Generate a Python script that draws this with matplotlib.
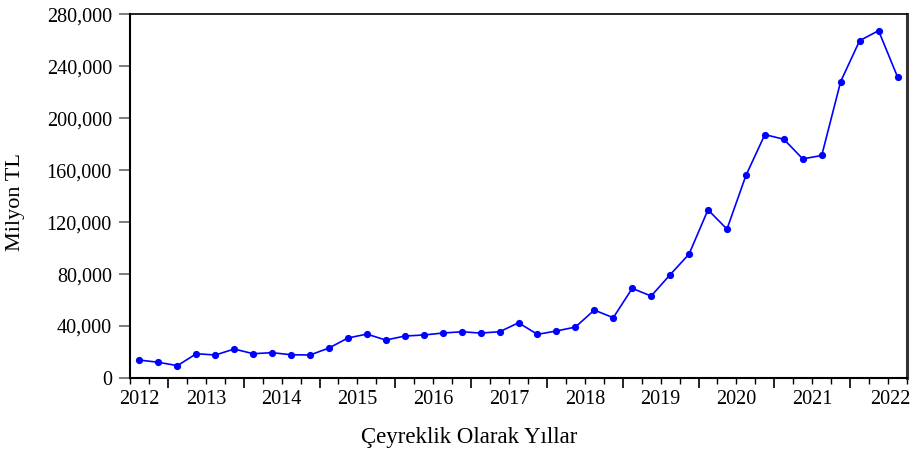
import matplotlib
matplotlib.use("Agg")
import matplotlib.pyplot as plt
from matplotlib.ticker import FuncFormatter, FixedLocator
import matplotlib.transforms as mtransforms

# Quarterly values (2012Q3 - 2022Q3), million TL
values = [13800, 12100, 9500, 18700, 17700, 22300, 18700, 19500, 17900, 17700,
          23100, 30800, 33800, 29200, 32300, 33100, 34600, 35600, 34600, 35600,
          42500, 33600, 36200, 39200, 52300, 46400, 69000, 63100, 79500, 95400,
          129500, 114600, 155900, 187400, 183800, 168700, 171300, 228200, 259700,
          267400, 231800]
year_labels = ["2012", "2013", "2014", "2015", "2016", "2017", "2018", "2019",
               "2020", "2021", "2022"]
year_label_pos = [0, 3.5, 7.5, 11.5, 15.5, 19.5, 23.5, 27.5, 31.5, 35.5, 39.6]
y_ticks = [0, 40000, 80000, 120000, 160000, 200000, 240000, 280000]

plt.rcParams['font.family'] = ['Liberation Serif', 'DejaVu Serif']

fig = plt.figure(figsize=(9.16, 4.49), dpi=100)
ax = fig.add_axes([130/916, 1-378/449, (907-130)/916, (378-14.3)/449])

x = list(range(len(values)))
ax.plot(x, values, color='#0000ff', linewidth=1.2, marker='o', markersize=5.2,
        markeredgewidth=0)

ax.set_xlim(-0.5, 40.5)
ax.set_ylim(0, 280000)

ax.yaxis.set_major_locator(FixedLocator(y_ticks))
ax.yaxis.set_major_formatter(FuncFormatter(lambda v, p: f"{int(v):,}"))
ax.tick_params(axis='y', direction='out', length=8, width=1.2, color='#666666',
               labelsize=14.5, pad=5)

major_x = [1.5 + 4*k for k in range(10)]
minor_x = [k + 0.5 for k in range(-1, 41)]
minor_x = [m for m in minor_x if m not in major_x]
ax.xaxis.set_major_locator(FixedLocator(major_x))
ax.xaxis.set_minor_locator(FixedLocator(minor_x))
ax.set_xticklabels([])
ax.tick_params(axis='x', which='major', direction='out', length=7, width=1.2, color='black')
ax.tick_params(axis='x', which='minor', direction='out', length=4, width=1.0, color='black')

trans = mtransforms.blended_transform_factory(ax.transData, fig.transFigure)
for pos, lab in zip(year_label_pos, year_labels):
    ax.text(pos, 1-399/449, lab, transform=trans, ha='center', va='center',
            fontsize=14.5, clip_on=False)

for s in ['left', 'bottom']:
    ax.spines[s].set_linewidth(1.5)
    ax.spines[s].set_color('black')
ax.spines['top'].set_linewidth(1.2)
ax.spines['top'].set_color('black')
ax.spines['right'].set_linewidth(2.2)
ax.spines['right'].set_color('#333333')

fig.text(469/916, 1-437/449, "Çeyreklik Olarak Yıllar", ha='center', va='center',
         fontsize=16.5)
fig.text(16/916, 1-202/449, "Milyon TL", ha='center', va='center', rotation=90,
         fontsize=16)

fig.savefig("out.png", dpi=100)
